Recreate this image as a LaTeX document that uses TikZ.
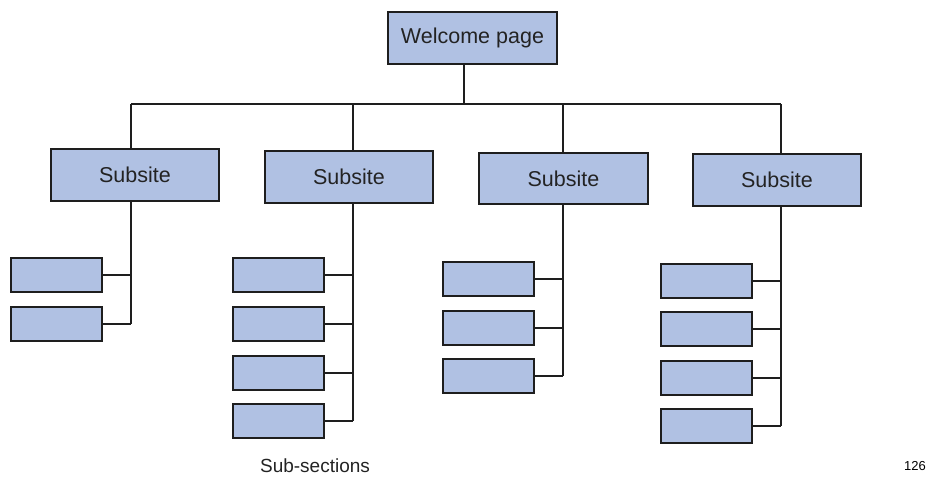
\documentclass[tikz,border=0pt]{standalone}
\usepackage{fontspec}
\setmainfont{Liberation Sans}
\definecolor{boxfill}{RGB}{176,193,227}
\definecolor{linecol}{RGB}{30,30,30}
\definecolor{textcol}{RGB}{35,35,35}
\begin{document}
\begin{tikzpicture}[x=1pt,y=-1pt,
  box/.style={draw=linecol,fill=boxfill,line width=1.6pt,inner sep=0pt},
  bigbox/.style={box,minimum width=168pt,minimum height=52pt,text=textcol,font=\fontsize{21.5}{24}\selectfont},
  leaf/.style={box,minimum width=91pt,minimum height=34pt},
  conn/.style={draw=linecol,line width=1.4pt}]
\useasboundingbox (0,0) rectangle (940,482);
% top
\node[bigbox,minimum width=169pt] (w) at (472.5,38) {Welcome page};
\coordinate (tw) at (464,104);
% subsites
\node[bigbox] (s1) at (135,175) {Subsite};
\node[bigbox] (s2) at (349,177) {Subsite};
\node[bigbox,minimum width=169pt,minimum height=51pt] (s3) at (563.5,178.5) {Subsite};
\node[bigbox] (s4) at (777,180) {Subsite};
\coordinate (t1) at (131,104);
\coordinate (t2) at (353,104);
\coordinate (t3) at (563,104);
\coordinate (t4) at (781,104);
% leaves
\node[leaf] (a1) at (56.5,275) {};
\node[leaf] (a2) at (56.5,324) {};
\node[leaf] (b1) at (278.5,275) {};
\node[leaf] (b2) at (278.5,324) {};
\node[leaf] (b3) at (278.5,373) {};
\node[leaf] (b4) at (278.5,421) {};
\node[leaf] (c1) at (488.5,279) {};
\node[leaf] (c2) at (488.5,328) {};
\node[leaf] (c3) at (488.5,376) {};
\node[leaf] (d1) at (706.5,281) {};
\node[leaf] (d2) at (706.5,329) {};
\node[leaf] (d3) at (706.5,378) {};
\node[leaf] (d4) at (706.5,426) {};
% top connectors
\draw[conn] (tw |- w.south) -- (tw);
\draw[conn] (t1) -- (t4);
\foreach \i in {1,2,3,4} \draw[conn] (t\i) -- (t\i |- s\i.north);
% trunks
\draw[conn] (t1 |- s1.south) -- (t1 |- a2);
\draw[conn] (t2 |- s2.south) -- (t2 |- b4);
\draw[conn] (t3 |- s3.south) -- (t3 |- c3);
\draw[conn] (t4 |- s4.south) -- (t4 |- d4);
\foreach \n in {a1,a2} \draw[conn] (\n.east) -- (\n.east -| t1);
\foreach \n in {b1,b2,b3,b4} \draw[conn] (\n.east) -- (\n.east -| t2);
\foreach \n in {c1,c2,c3} \draw[conn] (\n.east) -- (\n.east -| t3);
\foreach \n in {d1,d2,d3,d4} \draw[conn] (\n.east) -- (\n.east -| t4);
% labels
\node[font=\fontsize{19}{22}\selectfont,text=textcol,inner sep=0pt] (lbl) at (315,466) {Sub-sections};
\node[font=\fontsize{13}{15}\selectfont,inner sep=0pt] (pg) at (915,466) {126};
\end{tikzpicture}
\end{document}
